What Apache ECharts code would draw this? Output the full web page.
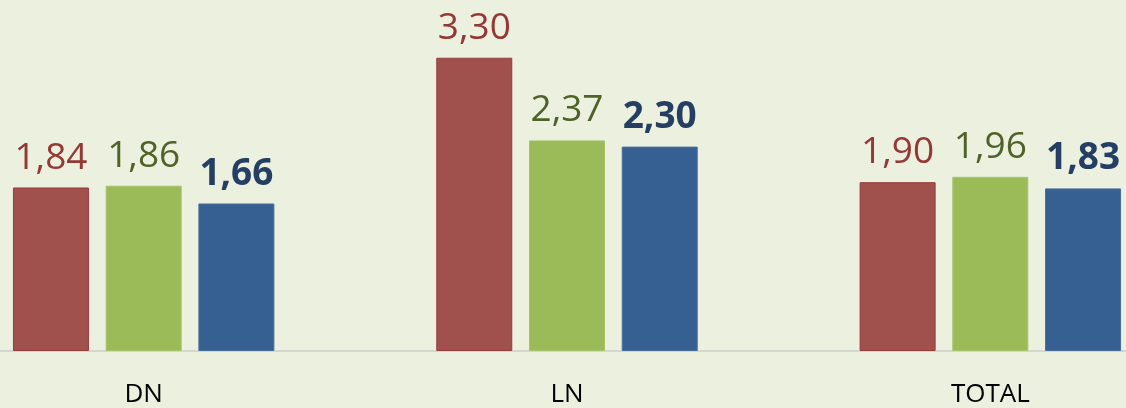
<!DOCTYPE html>
<html>
<head>
<meta charset="utf-8">
<script src="https://cdn.jsdelivr.net/npm/echarts@6/dist/echarts.min.js"></script>
<style>
    html, body { margin: 0; padding: 0; background: #EBF0DF; overflow: hidden; width: 1126px; height: 408px; }
    /* 图表比窗口宽，两边超出部分被裁掉 */
    #chart { width: 1270px; height: 408px; margin-left: -68px; }
</style>
</head>
<body>
<div id="chart"></div>
<script>
// 数据部分
var categories = ['DN', 'LN', 'TOTAL'];
var redValues = [1.84, 3.30, 1.90];
var greenValues = [1.86, 2.37, 1.96];
var blueValues = [1.66, 2.30, 1.83];

// 数字转为逗号小数
function commaLabel(p) {
    return p.value.toFixed(2).replace('.', ',');
}

function makeSeries(name, data, fill, border, textColor, bold) {
    return {
        name: name,
        type: 'bar',
        data: data,
        barWidth: 76,
        barGap: '22%',
        itemStyle: {
            color: fill,
            borderColor: border,
            borderWidth: 1
        },
        label: {
            show: true,
            position: 'top',
            distance: 11,
            formatter: commaLabel,
            color: textColor,
            fontSize: 37,
            fontWeight: bold ? 'bold' : 'normal',
            fontFamily: 'Open Sans'
        }
    }
}

var chart = echarts.init(document.getElementById('chart'));
var option = {
    backgroundColor: '#EBF0DF',
    animation: false,
    grid: {
        left: 0,
        right: 0,
        top: 0,
        bottom: 55,
        containLabel: false
    },
    xAxis: {
        type: 'category',
        data: categories,
        axisLine: { show: true, lineStyle: { color: '#D4D6CF', width: 2 } },
        axisTick: { show: false },
        axisLabel: {
            color: '#000',
            fontSize: 26,
            fontFamily: 'Open Sans',
            margin: 31
        }
    },
    yAxis: {
        type: 'value',
        min: 0,
        max: 3.95,
        show: false,
        splitLine: { show: false }
    },
    series: [
        makeSeries('s1', redValues, '#A0504D', '#973C39', '#953735', false),
        makeSeries('s2', greenValues, '#9BBB59', '#A6C46A', '#4F6228', false),
        makeSeries('s3', blueValues, '#376092', '#4A6E9A', '#243F63', true)
    ]
};
chart.setOption(option);
</script>
</body>
</html>
